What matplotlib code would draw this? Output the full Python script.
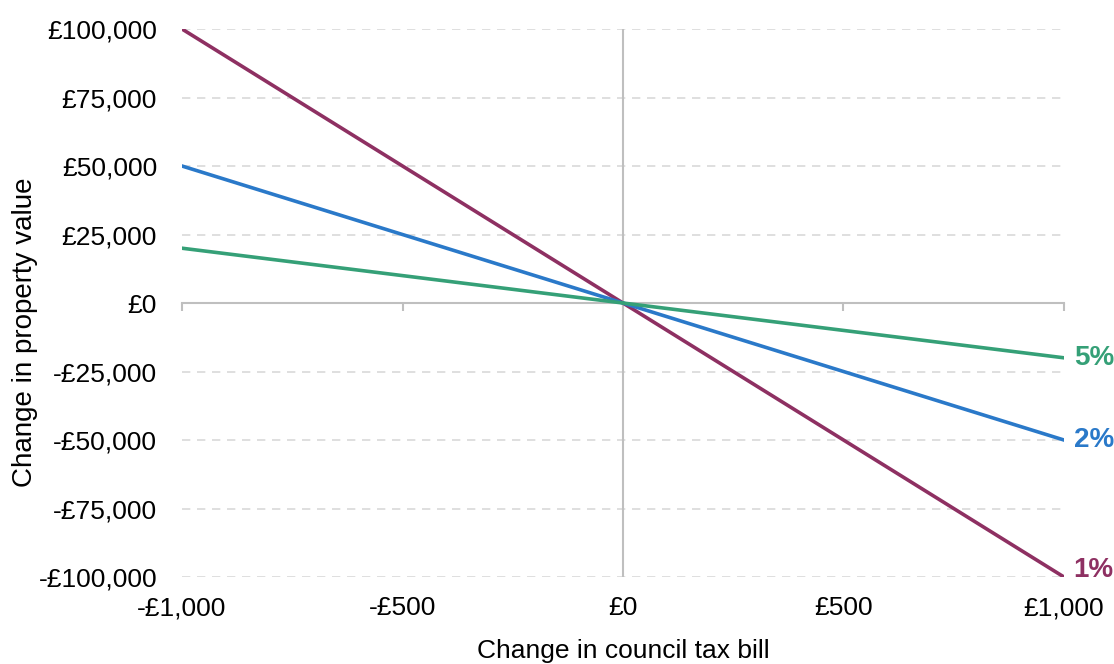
import matplotlib.pyplot as plt
from matplotlib.ticker import FuncFormatter

plt.rcParams['font.family'] = ['Liberation Sans', 'DejaVu Sans']

# data
tax_change = [-1000, 0, 1000]
value_1pct = [100000, 0, -100000]
value_2pct = [50000, 0, -50000]
value_5pct = [20000, 0, -20000]
labels = ['1%', '2%', '5%']
colors = ['#8e3062', '#2a79c9', '#35a077']

x_ticks = [-1000, -500, 0, 500, 1000]
y_ticks = [-100000, -75000, -50000, -25000, 0, 25000, 50000, 75000, 100000]


def money(v, pos=None):
    s = '£{:,.0f}'.format(abs(v))
    return '-' + s if v < 0 else s


fig = plt.figure(figsize=(11.14, 6.64), dpi=100)
ax = fig.add_axes([0.1634, 0.131, 0.7917, 0.8253])

grey = '#bfbfbf'
for y in y_ticks:
    if y != 0:
        ax.axhline(y, color='#d9d9d9', lw=1.2, ls=(0, (5, 4)), zorder=0)
ax.axvline(0, color=grey, lw=1.5, zorder=1)

series = [value_1pct, value_2pct, value_5pct]
# small vertical nudge for the bottom label so it sits above the x labels
nudges = [5, 0, 0]
for vals, lab, col, dy in zip(series, labels, colors, nudges):
    ax.plot(tax_change, vals, color=col, lw=2.6, zorder=3)
    ax.annotate(lab, (tax_change[-1], vals[-1]), xytext=(7, dy),
                textcoords='offset points', color=col, fontsize=20,
                fontweight='bold', va='center', ha='left',
                annotation_clip=False)

ax.set_xlim(-1000, 1000)
ax.set_ylim(-100000, 100000)

for s in ['top', 'right', 'left']:
    ax.spines[s].set_visible(False)
ax.spines['bottom'].set_position(('data', 0))
ax.spines['bottom'].set_color(grey)
ax.spines['bottom'].set_linewidth(1.5)

ax.set_xticks(x_ticks)
ax.tick_params(axis='x', direction='out', length=6, width=1.5, color=grey,
               labelbottom=False)
ax.set_yticks(y_ticks)
ax.yaxis.set_major_formatter(FuncFormatter(money))
ax.tick_params(axis='y', length=0, labelsize=19, pad=18)

# tick labels along the bottom edge, while the axis line stays at zero
sec = ax.secondary_xaxis('bottom')
sec.set_xticks(x_ticks)
sec.xaxis.set_major_formatter(FuncFormatter(money))
sec.tick_params(length=0, labelsize=19, pad=14)
sec.spines['bottom'].set_visible(False)

ax.set_xlabel('Change in council tax bill', fontsize=19, va='top')
ax.xaxis.set_label_coords(0.5, -0.113)

ax.set_ylabel('Change in property value', fontsize=20)
ax.yaxis.set_label_coords(-0.163, 0.447)

fig.savefig('out.png', dpi=100)
